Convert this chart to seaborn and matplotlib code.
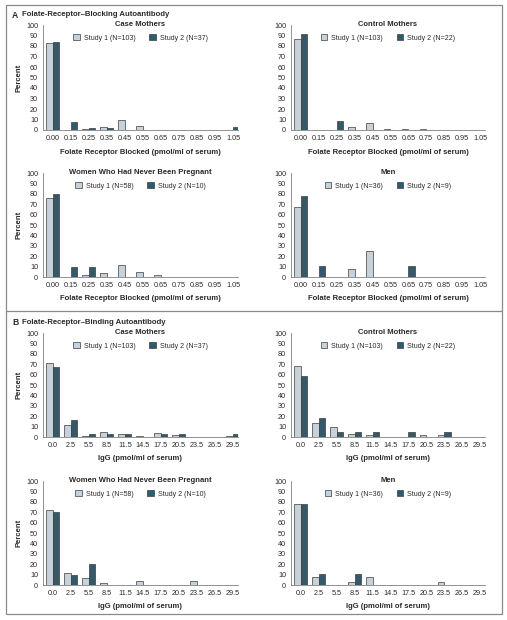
import numpy as np
import pandas as pd
import matplotlib
matplotlib.use("Agg")
import matplotlib.pyplot as plt
from matplotlib.patches import Patch, Rectangle
from matplotlib.lines import Line2D
import seaborn as sns

# DADOS
bins_a = ["0.00", "0.15", "0.25", "0.35", "0.45", "0.55", "0.65", "0.75", "0.85", "0.95", "1.05"]
bins_b = ["0.0", "2.5", "5.5", "8.5", "11.5", "14.5", "17.5", "20.5", "23.5", "26.5", "29.5"]

a_case_s1 = [83, 0, 1, 3, 10, 4, 0, 0, 0, 0, 0]
a_case_s2 = [84, 8, 2, 2, 0, 0, 0, 0, 0, 0, 2.5]
a_ctrl_s1 = [87, 0, 0, 3, 7, 1, 1, 1, 0, 0, 0]
a_ctrl_s2 = [91, 0, 9, 0, 0, 0, 0, 0, 0, 0, 0]
a_women_s1 = [76, 0, 2, 3.5, 12, 5, 2, 0, 0, 0, 0]
a_women_s2 = [80, 10, 10, 0, 0, 0, 0, 0, 0, 0, 0]
a_men_s1 = [67, 0, 0, 8, 25, 0, 0, 0, 0, 0, 0]
a_men_s2 = [78, 11, 0, 0, 0, 0, 11, 0, 0, 0, 0]

b_case_s1 = [71, 12, 1, 5, 3, 1, 4, 2, 0, 0, 1]
b_case_s2 = [67, 16, 2.5, 2.5, 2.5, 0, 2.5, 2.5, 0, 0, 2.5]
b_ctrl_s1 = [68, 13, 10, 3, 2, 0, 0, 2, 2, 0, 0]
b_ctrl_s2 = [59, 18, 4.5, 4.5, 4.5, 0, 4.5, 0, 4.5, 0, 0]
b_women_s1 = [72, 12, 7, 1.5, 0, 3.5, 0, 0, 3.5, 0, 0]
b_women_s2 = [70, 10, 20, 0, 0, 0, 0, 0, 0, 0, 0]
b_men_s1 = [78, 8, 0, 3, 8, 0, 0, 0, 3, 0, 0]
b_men_s2 = [78, 11, 0, 11, 0, 0, 0, 0, 0, 0, 0]

titles = ["Case Mothers", "Control Mothers", "Women Who Had Never Been Pregnant", "Men"]
n_study1 = [103, 103, 58, 36]
n_study2 = [37, 22, 10, 9]
xlabel_a = "Folate Receptor Blocked (pmol/ml of serum)"
xlabel_b = "IgG (pmol/ml of serum)"

C1 = "#c3d2dc"
C2 = "#2b5d72"
EDGE = "#3c3c3c"
GRAY = "#808080"
TXT = "#2a2a2a"

sns.set_style("white")
plt.rcParams['font.family'] = ['Liberation Sans', 'DejaVu Sans']

W, H = 507, 620
fig = plt.figure(figsize=(W / 100, H / 100), dpi=100)


def add_ax(left, top, right, bottom):
    return fig.add_axes([left / W, 1 - bottom / H, (right - left) / W, (bottom - top) / H])


def panel(ax, bins, s1, s2, k, xlabel, ylabel):
    df = pd.DataFrame({
        'bin': bins * 2,
        'pct': list(s1) + list(s2),
        'study': ["Study 1"] * len(bins) + ["Study 2"] * len(bins),
    })
    sns.barplot(data=df, x='bin', y='pct', hue='study', order=bins,
                palette=[C1, C2], width=0.72, gap=0, edgecolor=EDGE,
                linewidth=0.5, legend=False, ax=ax)
    ax.set_ylim(0, 100)
    ax.set_xlim(-0.55, 10.28)
    ax.set_yticks(range(0, 101, 10))
    sns.despine(ax=ax)
    for s in ['left', 'bottom']:
        ax.spines[s].set_color(GRAY)
        ax.spines[s].set_linewidth(0.6)
    ax.tick_params(axis='y', length=2.5, width=0.5, color=GRAY, labelsize=5.2,
                   labelcolor=TXT, pad=1)
    ax.tick_params(axis='x', length=1.5, width=0.5, color=GRAY, labelsize=5.2,
                   labelcolor=TXT, pad=2)
    ax.set_xlabel(xlabel, fontsize=5.5, fontweight='bold', color=TXT, va='center')
    ax.xaxis.set_label_coords(0.5, -22 / 105)
    if ylabel:
        ax.set_ylabel("Percent", fontsize=5.5, fontweight='bold', color=TXT, va='center')
        ax.yaxis.set_label_coords(-24 / 195, 0.5)
    else:
        ax.set_ylabel("")
    ax.text(0.5, 1.0, titles[k], transform=ax.transAxes, ha='center', va='center',
            fontsize=5.5, fontweight='bold', color=TXT)
    handles = [Patch(facecolor=C1, edgecolor=EDGE, linewidth=0.5),
               Patch(facecolor=C2, edgecolor=EDGE, linewidth=0.5)]
    labels = [f"Study 1 (N={n_study1[k]})", f"Study 2 (N={n_study2[k]})"]
    ax.legend(handles, labels, loc='center', bbox_to_anchor=(0.5, 0.875), ncol=2,
              frameon=False, fontsize=5.0, handlelength=0.9, handleheight=0.9,
              columnspacing=2.0, handletextpad=0.6, labelcolor=TXT)


lefts = [(43, 238), (291, 485)]
rows = [(25, 130), (173, 277), (333, 437), (481, 585)]

data_a = [(a_case_s1, a_case_s2), (a_ctrl_s1, a_ctrl_s2), (a_women_s1, a_women_s2), (a_men_s1, a_men_s2)]
data_b = [(b_case_s1, b_case_s2), (b_ctrl_s1, b_ctrl_s2), (b_women_s1, b_women_s2), (b_men_s1, b_men_s2)]

for k in range(4):
    col = k % 2
    r = k // 2
    ax = add_ax(lefts[col][0], rows[r][0], lefts[col][1], rows[r][1])
    panel(ax, bins_a, data_a[k][0], data_a[k][1], k, xlabel_a, col == 0)
    ax = add_ax(lefts[col][0], rows[r + 2][0], lefts[col][1], rows[r + 2][1])
    panel(ax, bins_b, data_b[k][0], data_b[k][1], k, xlabel_b, col == 0)

# caixas em volta dos painéis
fig.add_artist(Rectangle((5.5 / W, 1 - 614 / H), (502 - 5.5) / W, (614 - 5) / H,
                         transform=fig.transFigure, fill=False, edgecolor="#8a8a8a", linewidth=0.9))
fig.add_artist(Line2D([5.5 / W, 502 / W], [1 - 311 / H, 1 - 311 / H],
                      transform=fig.transFigure, color="#8a8a8a", linewidth=0.9))

fig.text(12 / W, 1 - 15 / H, "A", fontsize=6.2, fontweight='bold', color=TXT, va='center')
fig.text(22 / W, 1 - 15 / H, "Folate-Receptor\u2013Blocking Autoantibody", fontsize=5.6,
         fontweight='bold', color=TXT, va='center')
fig.text(12 / W, 1 - 322 / H, "B", fontsize=6.2, fontweight='bold', color=TXT, va='center')
fig.text(22 / W, 1 - 322 / H, "Folate-Receptor\u2013Binding Autoantibody", fontsize=5.6,
         fontweight='bold', color=TXT, va='center')

fig.savefig("out.png", dpi=100)
